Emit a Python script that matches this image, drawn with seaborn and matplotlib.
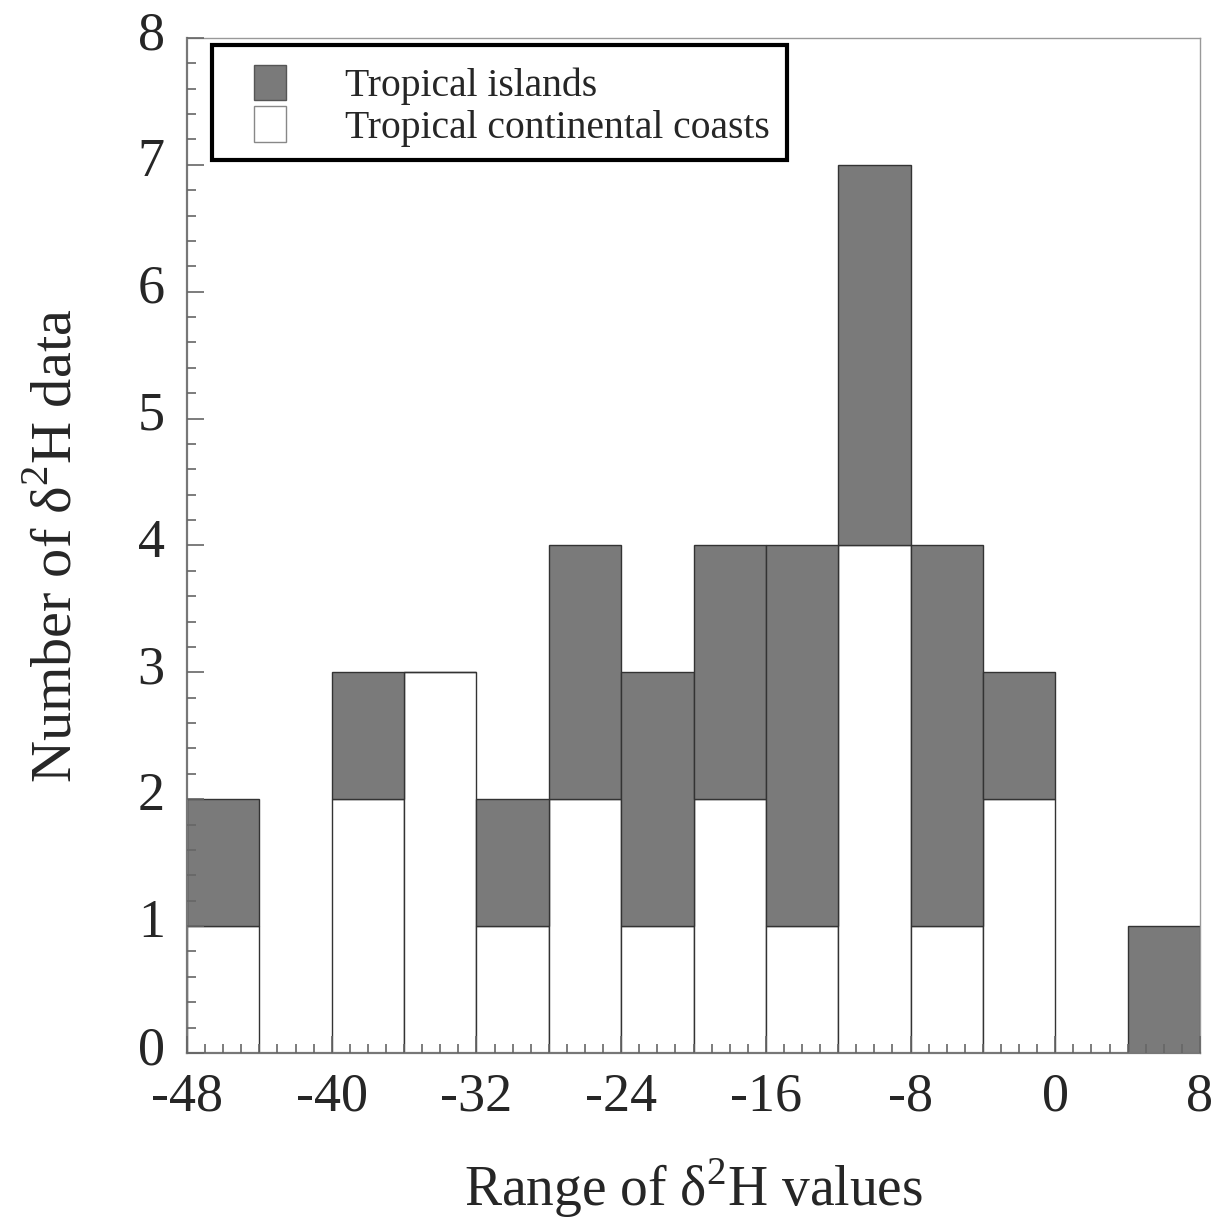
import pandas as pd
import numpy as np
import matplotlib
matplotlib.use("Agg")
import matplotlib.pyplot as plt
import matplotlib.transforms as mtransforms
from matplotlib.patches import Patch, Rectangle
from matplotlib.ticker import MultipleLocator
import seaborn as sns

# Bin centres (width 4, from -48 to 8) and counts per group
bin_centers = [-46, -42, -38, -34, -30, -26, -22, -18, -14, -10, -6, -2, 2, 6]
islands = [1, 0, 1, 0, 1, 2, 2, 2, 3, 3, 3, 1, 0, 1]
continental = [1, 0, 2, 3, 1, 2, 1, 2, 1, 4, 1, 2, 0, 0]

label_isl = "Tropical islands"
label_con = "Tropical continental coasts"

df = pd.DataFrame({
    "value": bin_centers * 2,
    "count": islands + continental,
    "group": [label_isl] * len(bin_centers) + [label_con] * len(bin_centers),
})

sns.set_style("ticks")
plt.rcParams["font.family"] = ["Liberation Serif", "DejaVu Serif"]
plt.rcParams["mathtext.fontset"] = "custom"
plt.rcParams["mathtext.rm"] = "Liberation Serif"
plt.rcParams["axes.unicode_minus"] = False

gray = "#7a7a7a"
palette = {label_isl: gray, label_con: "white"}

fig = plt.figure(figsize=(12.17, 12.22), dpi=100)
ax = fig.add_axes([0.1537, 0.1383, 0.8323, 0.8307])

sns.histplot(data=df, x="value", weights="count", hue="group",
             hue_order=[label_isl, label_con], palette=palette,
             binwidth=4, binrange=(-48, 8), multiple="stack",
             alpha=1, edgecolor="#333333", linewidth=1.0,
             legend=False, ax=ax)

ax.set_axisbelow(False)
ax.set_xlim(-48, 8)
ax.set_ylim(0, 8)
ax.xaxis.set_major_locator(MultipleLocator(8))
ax.xaxis.set_minor_locator(MultipleLocator(1))
ax.yaxis.set_major_locator(MultipleLocator(1))
ax.yaxis.set_minor_locator(MultipleLocator(0.2))
ax.tick_params(which="both", direction="in", color="#666666", width=1.2)
ax.tick_params(which="major", length=12)
ax.tick_params(which="minor", length=6.5)
ax.tick_params(axis="x", labelsize=39, pad=14)
ax.tick_params(axis="y", labelsize=39, pad=16)

# nudge y tick labels upward a bit like the original
offset = mtransforms.ScaledTranslation(0, 8 / 100, fig.dpi_scale_trans)
for lab in ax.get_yticklabels():
    lab.set_transform(lab.get_transform() + offset)

for side in ["left", "bottom"]:
    ax.spines[side].set_color("#777777")
    ax.spines[side].set_linewidth(1.6)
for side in ["top", "right"]:
    ax.spines[side].set_visible(True)
    ax.spines[side].set_color("#999999")
    ax.spines[side].set_linewidth(1.0)

ax.set_xlabel(r"Range of δ$^{2}$H values", fontsize=40, labelpad=24)
ax.set_ylabel(r"Number of δ$^{2}$H data", fontsize=42, labelpad=40)

# legend entries without frame, with a separate box drawn around them
handles = [Patch(facecolor=gray, edgecolor="#555555", label=label_isl),
           Patch(facecolor="white", edgecolor="#888888", label=label_con)]
leg = ax.legend(handles=handles, loc="upper left", bbox_to_anchor=(0.0661, 0.9734),
                fontsize=28.5, frameon=False, borderpad=0,
                handlelength=0.8, handleheight=1.0, handletextpad=1.5,
                labelspacing=0.03, borderaxespad=0)
ax.add_patch(Rectangle((0.0247, 0.8798), 0.5676, 0.1133, transform=ax.transAxes,
                       facecolor="white", edgecolor="black", linewidth=3, zorder=4))
leg.set_zorder(5)

fig.savefig("out.png", dpi=100, facecolor="white")
